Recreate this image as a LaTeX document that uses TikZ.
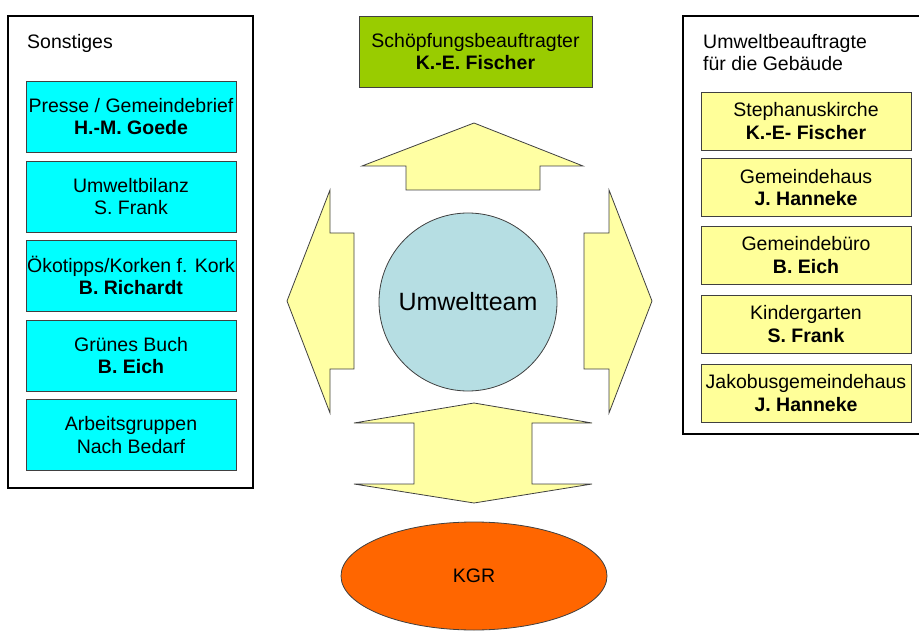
\documentclass[tikz,border=0pt]{standalone}
\usepackage{fontspec}
\setmainfont{Liberation Sans}
\usepackage{tikz}
\usetikzlibrary{shapes.geometric}
\definecolor{edge}{HTML}{404040}
\definecolor{aqua}{HTML}{00FFFF}
\definecolor{lime}{HTML}{99CC00}
\definecolor{pale}{HTML}{FFFF99}
\definecolor{arrowfill}{HTML}{FFFFA3}
\definecolor{teamblue}{HTML}{B6DEE3}
\definecolor{kgrorange}{HTML}{FF6600}
\newcommand{\BoxFont}{\fontsize{19.5}{22.4}\selectfont}
\tikzset{
  Frame/.style={draw=black, line width=1.5pt},
  TaskBox/.style={
    draw=edge, fill=aqua, line width=0.8pt,
    minimum width=210pt, minimum height=71pt,
    inner sep=0pt, align=center, font=\BoxFont
  },
  HouseBox/.style={
    draw=edge, fill=pale, line width=0.8pt,
    minimum width=210pt, minimum height=58pt,
    inner sep=0pt, align=center, font=\BoxFont
  },
  BlockArrow/.style={draw=edge, fill=arrowfill, line width=0.8pt, line join=miter}
}

\begin{document}
\begin{tikzpicture}[x=1pt, y=-1pt]
  \useasboundingbox (0,0) rectangle (919,631);

  % left frame
  \draw[Frame] (8,16) rectangle (253,488);
  \node[anchor=west, inner sep=0pt, font=\BoxFont] (sonst) at (27,43) {Sonstiges};
  \node[TaskBox] (presse) at (131,116.5) {Presse / Gemeindebrief\\\textbf{H.-M. Goede}};
  \node[TaskBox] (bilanz) at (131,196.5) {Umweltbilanz\\S. Frank};
  \node[TaskBox] (tipps)  at (131,275.5) {Ökotipps/Korken f. Kork\\\textbf{B. Richardt}};
  \node[TaskBox] (buch)   at (131,355.5) {Grünes Buch\\\textbf{B. Eich}};
  \node[TaskBox] (gruppe) at (131,435) {Arbeitsgruppen\\Nach Bedarf};

  % right frame
  \draw[Frame] (925,16) -- (683,16) -- (683,434) -- (925,434);
  \node[anchor=north west, inner sep=0pt, align=left, font=\BoxFont] (beauf) at (703,34)
    {Umweltbeauftragte\\für die Gebäude};
  \node[HouseBox] (stephanus) at (806,121)   {Stephanuskirche\\\textbf{K.-E- Fischer}};
  \node[HouseBox] (gemhaus)   at (806,187.5) {Gemeindehaus\\\textbf{J. Hanneke}};
  \node[HouseBox] (buero)     at (806,255)   {Gemeindebüro\\\textbf{B. Eich}};
  \node[HouseBox] (kiga)      at (806,324)   {Kindergarten\\\textbf{S. Frank}};
  \node[HouseBox] (jakobus)   at (806,393)   {Jakobusgemeindehaus\\\textbf{J. Hanneke}};

  % centre
  \node[TaskBox, fill=lime, minimum width=233pt] (schoepf) at (475.5,51.5)
    {Schöpfungsbeauftragter\\\textbf{K.-E. Fischer}};
  \node[circle, draw=edge, fill=teamblue, line width=0.8pt, minimum size=178pt,
        inner sep=0pt, font=\fontsize{25}{30}\selectfont] (team) at (468,302) {Umweltteam};
  \node[ellipse, draw=edge, fill=kgrorange, line width=0.8pt, minimum width=266pt,
        minimum height=108pt, inner sep=0pt, font=\BoxFont] (kgr) at (474,576) {KGR};

  % block arrows
  \draw[BlockArrow] (406,190) -- (406,166) -- (362,166) -- (474,123) -- (583,166)
    -- (540,166) -- (540,190) -- cycle;
  \draw[BlockArrow] (354,233) -- (330,233) -- (330,190) -- (287,301) -- (330,413)
    -- (330,369) -- (354,369) -- cycle;
  \draw[BlockArrow] (584,233) -- (609,233) -- (609,190) -- (652,301) -- (609,413)
    -- (609,369) -- (584,369) -- cycle;
  \draw[BlockArrow] (474,403) -- (592,423) -- (532,423) -- (532,484) -- (592,484)
    -- (474,503) -- (354,484) -- (414,484) -- (414,423) -- (354,423) -- cycle;
\end{tikzpicture}
\end{document}
